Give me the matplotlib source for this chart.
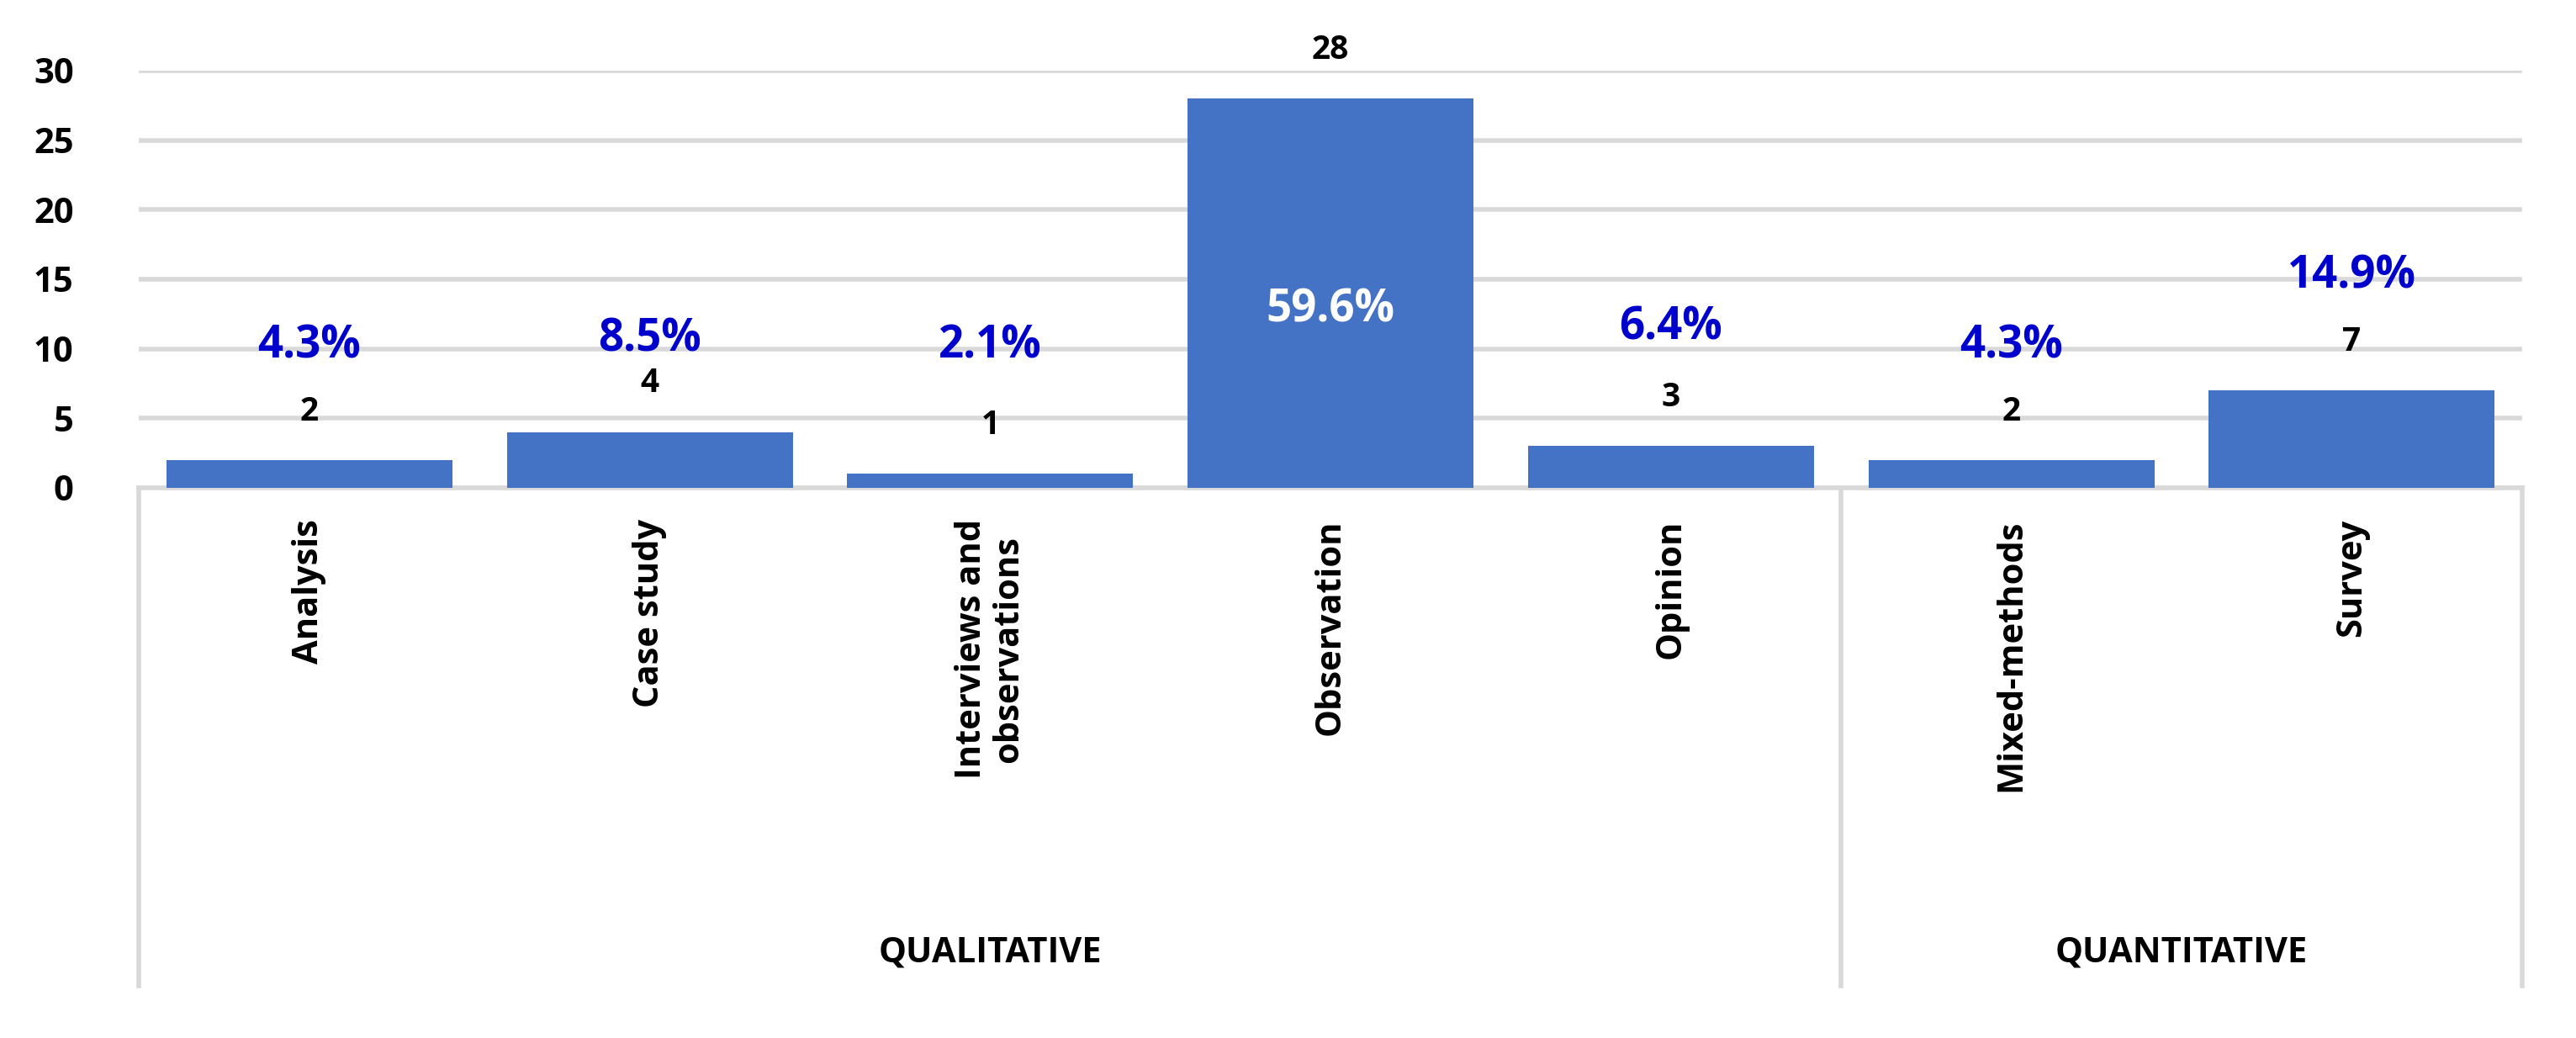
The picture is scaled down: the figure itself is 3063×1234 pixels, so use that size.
import matplotlib
matplotlib.use('Agg')
from matplotlib import pyplot as plt
import matplotlib.transforms as mtransforms

# Data
categories = ['Analysis', 'Case study', 'Interviews and\nobservations', 'Observation',
              'Opinion', 'Mixed-methods', 'Survey']
counts = [2, 4, 1, 28, 3, 2, 7]
percents = ['4.3%', '8.5%', '2.1%', '59.6%', '6.4%', '4.3%', '14.9%']
pct_y = [10.2, 10.7, 10.2, 12.8, 11.5, 10.2, 15.2]
groups = ['QUALITATIVE', 'QUANTITATIVE']
group_sizes = [5, 2]

plt.rcParams['font.family'] = ['Open Sans', 'DejaVu Sans']

fig = plt.figure(figsize=(15.315, 6.17), dpi=200)
ax = fig.add_axes([0.054, 0.530, 0.925, 0.402])

x = list(range(len(categories)))
ax.bar(x, counts, width=0.84, color='#4472C4', zorder=3)
ax.set_xlim(-0.5, len(categories) - 0.5)
ax.set_ylim(0, 30)
ax.set_yticks([0, 5, 10, 15, 20, 25, 30])
ax.tick_params(axis='y', length=0, labelsize=15, pad=28)
for lab in ax.get_yticklabels():
    lab.set_fontweight('bold')
ax.set_xticks([])
ax.yaxis.grid(True, color='#d9d9d9', linewidth=2, zorder=0)
for s in ['top', 'right', 'left']:
    ax.spines[s].set_visible(False)
ax.spines['bottom'].set_color('#d9d9d9')
ax.spines['bottom'].set_linewidth(2)

for i, (c, p, py) in enumerate(zip(counts, percents, pct_y)):
    ax.text(i, c + 3.5, str(c), ha='center', va='center', fontsize=14,
            fontweight='bold', clip_on=False)
    col = 'white' if c > 20 else '#0000CC'
    ax.text(i, py, p, ha='center', va='center', fontsize=19,
            fontweight='bold', color=col, zorder=4)

trans = mtransforms.blended_transform_factory(ax.transData, ax.transAxes)
for i, cat in enumerate(categories):
    ax.text(i, -0.075, cat, rotation=90, ha='center', va='top', fontsize=15,
            fontweight='bold', transform=trans, linespacing=1.1)

edges = [-0.5]
for n in group_sizes:
    edges.append(edges[-1] + n)
for e in edges:
    ax.plot([e, e], [0, -1.194], transform=trans, color='#d9d9d9',
            linewidth=2, clip_on=False)
for g, a, b in zip(groups, edges[:-1], edges[1:]):
    ax.text((a + b) / 2, -1.115, g, ha='center', va='center', fontsize=15,
            fontweight='bold', transform=trans)

fig.savefig('out.png', dpi=200)
